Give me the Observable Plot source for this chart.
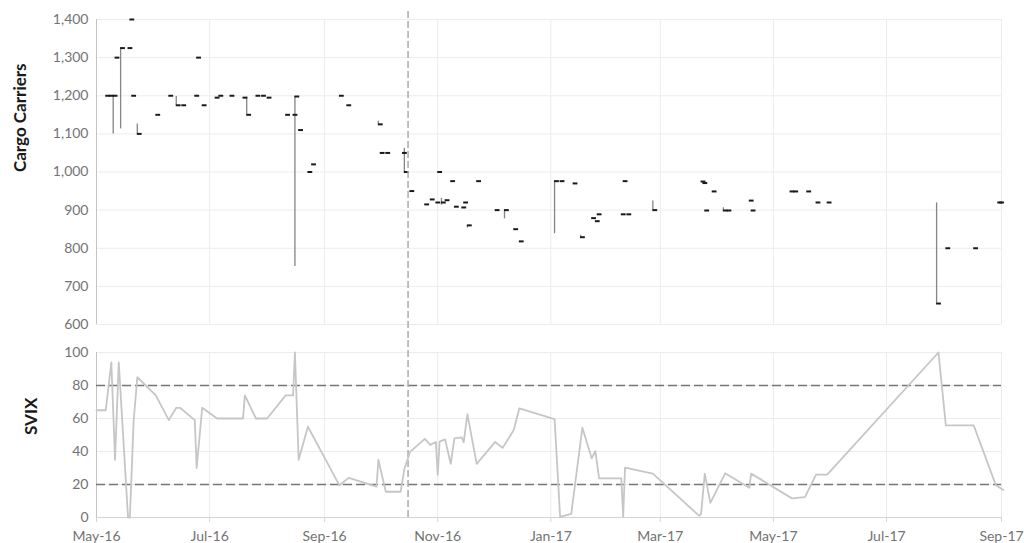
<!DOCTYPE html>
<html>
<head>
<meta charset="utf-8">
<script src="https://cdn.jsdelivr.net/npm/d3@7"></script>
<script src="https://cdn.jsdelivr.net/npm/@observablehq/plot@0.6"></script>
<style>
  html, body { margin: 0; padding: 0; background: #fff; overflow: hidden; }
  #chart svg { display: block; }
</style>
</head>
<body>
<div id="chart"></div>
<script>
// ---- Data ----
const ohlcDates = ["2016-05-06","2016-05-08","2016-05-10","2016-05-11","2016-05-14","2016-05-18","2016-05-19","2016-05-20","2016-05-23","2016-06-02","2016-06-09","2016-06-13","2016-06-16","2016-06-23","2016-06-24","2016-06-27","2016-07-04","2016-07-06","2016-07-12","2016-07-19","2016-07-21","2016-07-26","2016-07-29","2016-08-01","2016-08-11","2016-08-15","2016-08-16","2016-08-18","2016-08-23","2016-08-25","2016-09-09","2016-09-13","2016-09-30","2016-10-01","2016-10-04","2016-10-13","2016-10-14","2016-10-17","2016-10-25","2016-10-28","2016-10-31","2016-11-01","2016-11-03","2016-11-05","2016-11-08","2016-11-10","2016-11-14","2016-11-15","2016-11-17","2016-11-22","2016-12-02","2016-12-07","2016-12-12","2016-12-15","2017-01-03","2017-01-06","2017-01-13","2017-01-17","2017-01-23","2017-01-25","2017-01-26","2017-02-08","2017-02-09","2017-02-11","2017-02-25","2017-03-23","2017-03-24","2017-03-25","2017-03-29","2017-04-04","2017-04-06","2017-04-18","2017-04-19","2017-05-10","2017-05-12","2017-05-19","2017-05-24","2017-05-30","2017-07-28","2017-08-02","2017-08-17","2017-08-30","2017-08-31"];
const ohlcHigh = [1200,1200,1200,1300,1325,1325,1400,1200,1126,1150,1200,1198,1175,1200,1300,1175,1195,1200,1200,1195,1196,1200,1200,1195,1150,1150,1198,1110,1000,1020,1200,1175,1133,1050,1050,1050,1062,950,915,928,920,1000,931,926,976,909,907,920,860,976,900,900,850,818,976,976,970,834,879,871,889,889,976,889,924,975,971,899,949,906,899,925,899,949,949,949,920,920,919,800,800,920,920];
const ohlcLow = [1200,1200,1100,1300,1113,1325,1400,1200,1100,1150,1200,1175,1175,1200,1300,1175,1195,1200,1200,1195,1150,1200,1200,1195,1150,1150,752,1110,1000,1020,1200,1175,1125,1050,1050,1050,1000,950,915,928,920,1000,913,926,976,909,907,920,853,976,900,877,850,818,838,976,970,829,879,871,889,889,976,889,900,975,971,899,949,899,899,925,899,949,949,949,920,920,655,800,800,920,920];
const ohlcClose = [1200,1200,1200,1300,1325,1325,1400,1200,1100,1150,1200,1175,1175,1200,1300,1175,1195,1200,1200,1195,1150,1200,1200,1195,1150,1150,1198,1110,1000,1020,1200,1175,1125,1050,1050,1050,1000,950,915,928,920,1000,920,926,976,909,907,920,860,976,900,900,850,818,976,976,970,829,879,871,889,889,976,889,900,975,971,899,949,899,899,925,899,949,949,949,920,920,655,800,800,920,920];

const svixDates = ["2016-05-01","2016-05-06","2016-05-09","2016-05-11","2016-05-13","2016-05-18","2016-05-19","2016-05-21","2016-05-23","2016-06-02","2016-06-09","2016-06-13","2016-06-15","2016-06-23","2016-06-24","2016-06-27","2016-07-05","2016-07-19","2016-07-20","2016-07-26","2016-08-01","2016-08-11","2016-08-15","2016-08-16","2016-08-18","2016-08-23","2016-09-09","2016-09-14","2016-09-29","2016-09-30","2016-10-04","2016-10-12","2016-10-14","2016-10-17","2016-10-25","2016-10-28","2016-10-31","2016-11-01","2016-11-02","2016-11-05","2016-11-08","2016-11-10","2016-11-14","2016-11-15","2016-11-17","2016-11-22","2016-12-02","2016-12-06","2016-12-12","2016-12-15","2017-01-03","2017-01-06","2017-01-12","2017-01-18","2017-01-23","2017-01-25","2017-01-27","2017-02-08","2017-02-09","2017-02-10","2017-02-25","2017-03-22","2017-03-23","2017-03-25","2017-03-28","2017-04-05","2017-04-18","2017-04-19","2017-05-11","2017-05-18","2017-05-24","2017-05-30","2017-07-29","2017-08-02","2017-08-17","2017-08-29","2017-09-02"];
const svixValues = [65,65,94,35,94,0,0,58,85,74,59,66.5,66.5,59,30,66.5,60,60,74,60,60,74,74,100,35,55,19.5,24,18.7,35,15.6,15.6,29.4,39.6,47.7,44,45.8,25.8,46,47.3,32.5,48,48.5,45.6,62.7,32.5,45.8,42.2,53,66.1,59.6,0.4,2.2,54.4,35.9,40.2,23.7,23.7,0.4,30.2,26.6,1,2.2,26.6,8.9,26.8,18,26.6,11.6,12.4,26,26,100,55.8,55.8,19.5,16.7];

const svixBands = [20, 80];
const eventDate = ["2016-10-16"];
const xDomain = ["2016-05-01", "2017-09-01"];
const xTickDates = ["2016-05-01","2016-07-01","2016-09-01","2016-11-01","2017-01-01","2017-03-01","2017-05-01","2017-07-01","2017-09-01"];
const cargoTicks = [600,700,800,900,1000,1100,1200,1300,1400];
const svixTicks = [0,20,40,60,80,100];
const cargoTitle = "Cargo Carriers";
const svixTitle = "SVIX";

// ---- Build tables ----
const toDate = s => new Date(s);
const ohlc = ohlcDates.map((d, i) => ({date: toDate(d), high: ohlcHigh[i], low: ohlcLow[i], close: ohlcClose[i]}));
const svix = svixDates.map((d, i) => ({date: toDate(d), value: svixValues[i]}));
const xd = xDomain.map(toDate);
const xt = xTickDates.map(toDate);
const ev = eventDate.map(toDate);
const DAY = 864e5;

const font = {fontFamily: "Lato, 'Open Sans', sans-serif", fontSize: "14px", background: "#fff", overflow: "visible"};
const gridColor = "#ececec";
const tickText = "#737373";

const cargoPlot = Plot.plot({
  width: 1024, height: 340,
  marginLeft: 96, marginRight: 23, marginTop: 19, marginBottom: 16,
  style: font,
  x: {type: "utc", domain: xd, axis: null},
  y: {domain: [600, 1400], axis: null},
  marks: [
    Plot.gridY(cargoTicks, {stroke: gridColor, strokeOpacity: 1}),
    Plot.gridX(xt, {stroke: gridColor, strokeOpacity: 1}),
    Plot.ruleX([xd[0]], {stroke: "#c4c4c4"}),
    Plot.axisY({ticks: cargoTicks, tickSize: 0, tickPadding: 8, tickFormat: d3.format(","), fill: tickText, label: null, fontSize: 14}),
    Plot.ruleX(ohlc, {x: "date", y1: "low", y2: "high", stroke: "#858585", strokeWidth: 1.3}),
    Plot.ruleY(ohlc, {y: "close", x1: "date", x2: d => new Date(+d.date + 2.6 * DAY), stroke: "#1a1a1a", strokeWidth: 2}),
    Plot.ruleX(ev, {stroke: "#ababab", strokeWidth: 1.5, strokeDasharray: "7,3", insetTop: -8, insetBottom: -16}),
    Plot.text([cargoTitle], {text: d => d, frameAnchor: "left", dx: -76, rotate: -90, fontWeight: "bold", fontSize: 17, fill: "#1a1a1a"})
  ]
});

const svixPlot = Plot.plot({
  width: 1024, height: 203,
  marginLeft: 96, marginRight: 23, marginTop: 12, marginBottom: 26,
  style: font,
  x: {type: "utc", domain: xd, axis: null},
  y: {domain: [0, 100], axis: null},
  marks: [
    Plot.gridY(svixTicks, {stroke: gridColor, strokeOpacity: 1}),
    Plot.gridX(xt, {stroke: gridColor, strokeOpacity: 1}),
    Plot.ruleX([xd[0]], {stroke: "#c4c4c4"}),
    Plot.ruleY([0], {stroke: "#d4d4d4"}),
    Plot.axisY({ticks: svixTicks, tickSize: 0, tickPadding: 8, fill: tickText, label: null, fontSize: 14}),
    Plot.axisX({ticks: xt, tickSize: 5, tickPadding: 9, tickFormat: d3.utcFormat("%b-%y"), stroke: "#d4d4d4", fill: tickText, label: null, fontSize: 14}),
    Plot.ruleY(svixBands, {stroke: "#767676", strokeWidth: 1.5, strokeDasharray: "9,4"}),
    Plot.ruleX(ev, {stroke: "#ababab", strokeWidth: 1.5, strokeDasharray: "7,3", insetTop: -12}),
    Plot.line(svix, {x: "date", y: "value", stroke: "#c6c6c6", strokeWidth: 1.8}),
    Plot.text([svixTitle], {text: d => d, frameAnchor: "left", dx: -65, rotate: -90, fontWeight: "bold", fontSize: 17, fill: "#1a1a1a"})
  ]
});

const el = document.getElementById("chart");
el.appendChild(cargoPlot);
el.appendChild(svixPlot);
</script>
</body>
</html>
